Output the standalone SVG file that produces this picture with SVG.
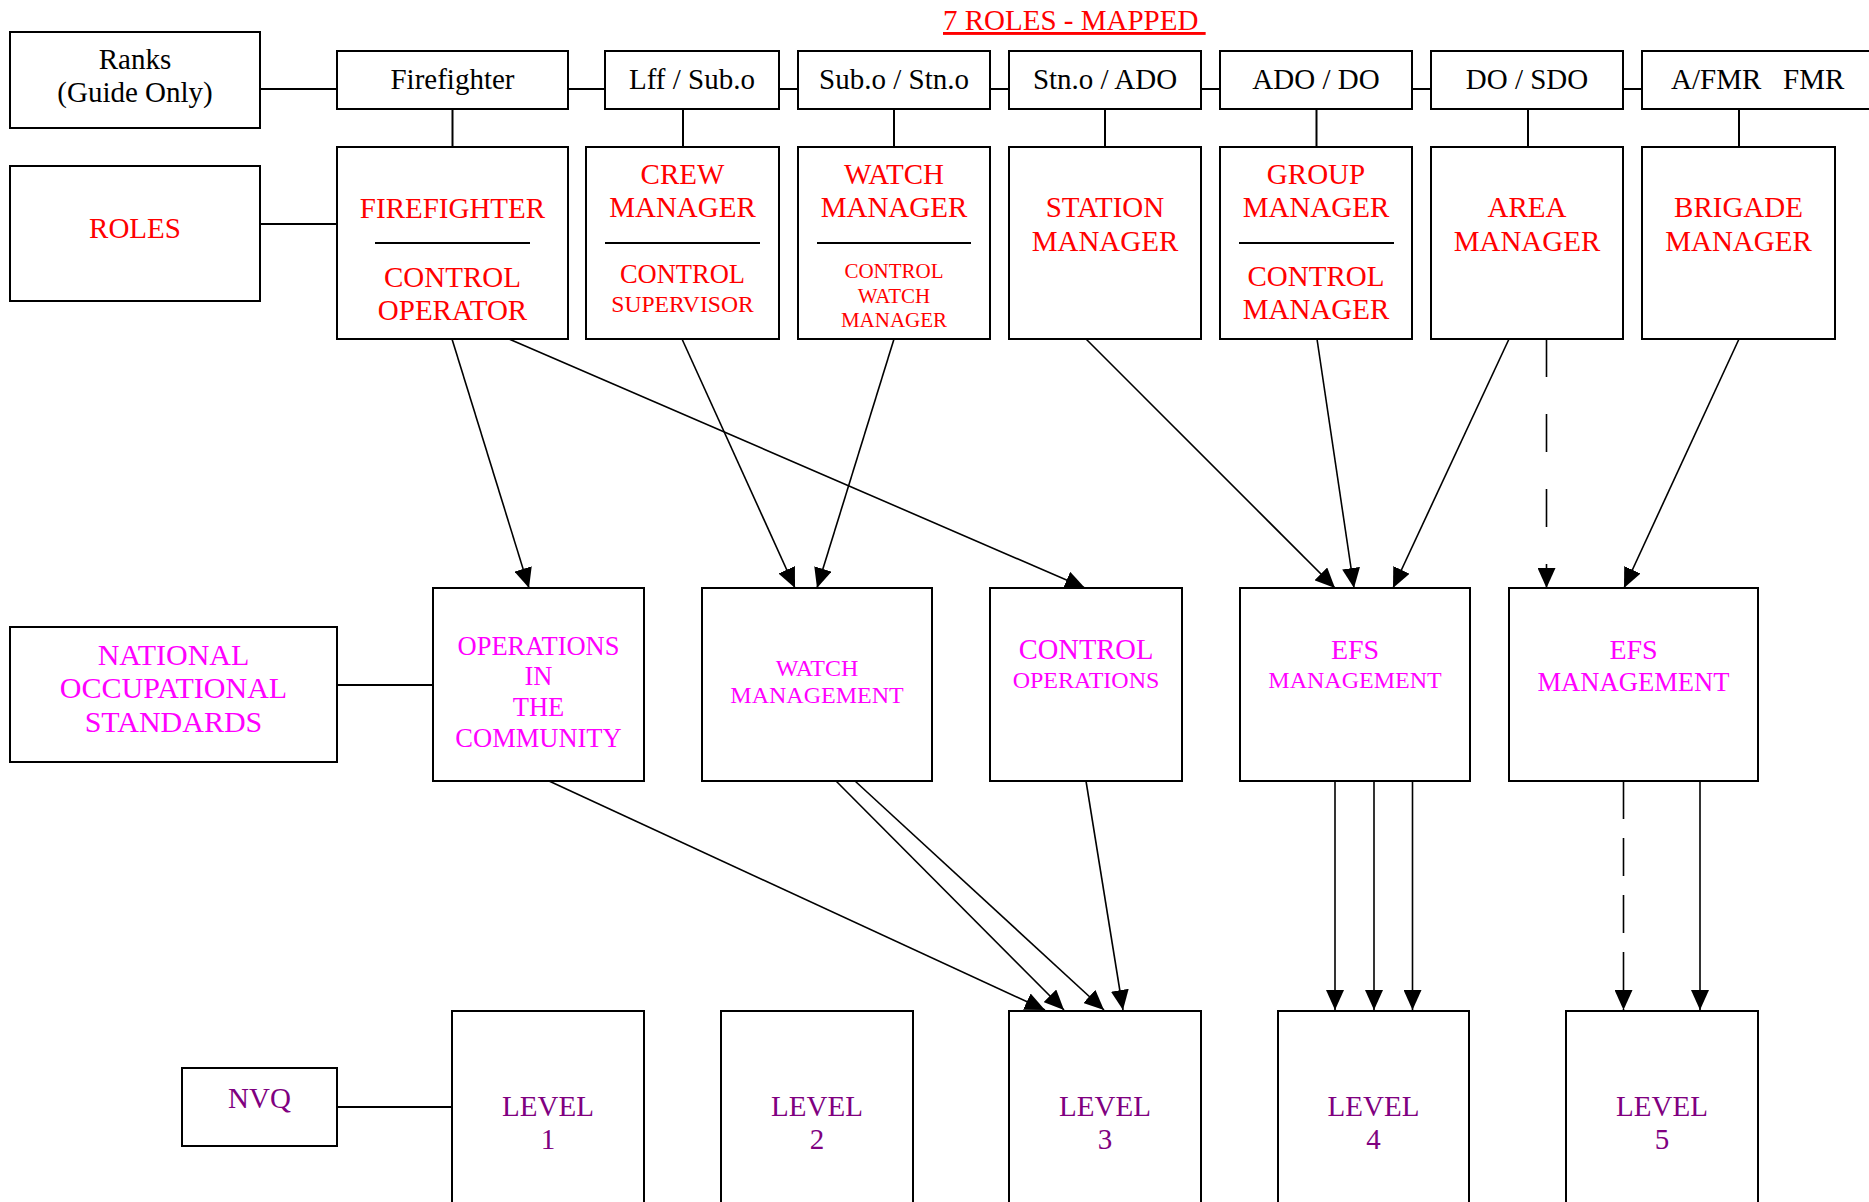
<svg xmlns="http://www.w3.org/2000/svg" width="1869" height="1202" viewBox="0 0 1869 1202">
  <style>
    text { font-family: "Liberation Serif", "Times New Roman", serif; text-anchor: middle; }
    .box { fill: #fff; stroke: #000; stroke-width: 2; }
    .rule { stroke: #000; stroke-width: 2; }
    .rank { font-size: 29px; fill: #000; }
    .role { font-size: 29px; fill: #ff0000; }
    .nos { fill: #ff00ff; }
    .lvl { font-size: 29px; fill: #800080; }
    .link { stroke: #000; stroke-width: 2; fill: none; }
    .arrow { stroke: #000; stroke-width: 1.6; fill: none; marker-end: url(#head); }
    .dash1 { stroke-dasharray: 38 37; }
    .dash2 { stroke-dasharray: 38 19; }
  </style>
  <defs>
    <marker id="head" markerUnits="userSpaceOnUse" markerWidth="20" markerHeight="18" refX="20" refY="9" orient="auto">
      <path d="M0,0 L20,9 L0,18 Z" fill="#000"/>
    </marker>
  </defs>

  <rect width="1869" height="1202" fill="#fff"/>

  <!-- heading -->
  <text id="title" x="943" y="30" xml:space="preserve" style="text-anchor:start;font-size:29px;fill:#ff0000;text-decoration:underline">7 ROLES - MAPPED </text>

  <!-- plain links between boxes -->
  <g id="connectors">
    <!-- rank row chain -->
    <line class="link" x1="260" y1="89" x2="337" y2="89"/>
    <line class="link" x1="568" y1="89" x2="605" y2="89"/>
    <line class="link" x1="779" y1="89" x2="798" y2="89"/>
    <line class="link" x1="990" y1="89" x2="1009" y2="89"/>
    <line class="link" x1="1201" y1="89" x2="1220" y2="89"/>
    <line class="link" x1="1412" y1="89" x2="1431" y2="89"/>
    <line class="link" x1="1623" y1="89" x2="1642" y2="89"/>
    <!-- rank to role -->
    <line class="link" x1="452.5" y1="109" x2="452.5" y2="147"/>
    <line class="link" x1="683" y1="109" x2="683" y2="147"/>
    <line class="link" x1="894" y1="109" x2="894" y2="147"/>
    <line class="link" x1="1105" y1="109" x2="1105" y2="147"/>
    <line class="link" x1="1316.5" y1="109" x2="1316.5" y2="147"/>
    <line class="link" x1="1528" y1="109" x2="1528" y2="147"/>
    <line class="link" x1="1739" y1="109" x2="1739" y2="147"/>
    <!-- row labels -->
    <line class="link" x1="260" y1="224" x2="337" y2="224"/>
    <line class="link" x1="337" y1="685" x2="433" y2="685"/>
    <line class="link" x1="337" y1="1107" x2="452" y2="1107"/>

    <!-- roles to standards -->
    <line class="arrow" x1="452" y1="339" x2="529" y2="588"/>
    <line class="arrow" x1="509" y1="339" x2="1085" y2="588"/>
    <line class="arrow" x1="682" y1="339" x2="795" y2="588"/>
    <line class="arrow" x1="894" y1="339" x2="817" y2="588"/>
    <line class="arrow" x1="1086" y1="339" x2="1335" y2="588"/>
    <line class="arrow" x1="1317" y1="339" x2="1354" y2="588"/>
    <line class="arrow" x1="1509" y1="339" x2="1393" y2="588"/>
    <line class="arrow dash1" x1="1546.5" y1="339" x2="1546.5" y2="588"/>
    <line class="arrow" x1="1739" y1="339" x2="1624" y2="588"/>

    <!-- standards to levels -->
    <line class="arrow" x1="549" y1="781" x2="1045" y2="1010"/>
    <line class="arrow" x1="836" y1="781" x2="1064" y2="1010"/>
    <line class="arrow" x1="855" y1="781" x2="1104" y2="1010"/>
    <line class="arrow" x1="1086" y1="781" x2="1123" y2="1010"/>
    <line class="arrow" x1="1335" y1="781" x2="1335" y2="1010"/>
    <line class="arrow" x1="1374" y1="781" x2="1374" y2="1010"/>
    <line class="arrow" x1="1412.5" y1="781" x2="1412.5" y2="1010"/>
    <line class="arrow dash2" x1="1623.5" y1="781" x2="1623.5" y2="1010"/>
    <line class="arrow" x1="1700" y1="781" x2="1700" y2="1010"/>
  </g>

  <!-- rank row -->
  <g id="ranks-label">
    <rect class="box" x="10" y="32" width="250" height="96"/>
    <text class="rank" x="135" y="69">Ranks</text>
    <text class="rank" x="135" y="102">(Guide Only)</text>
  </g>
  <g id="rank-firefighter">
    <rect class="box" x="337" y="51" width="231" height="58"/>
    <text class="rank" x="452.5" y="89">Firefighter</text>
  </g>
  <g id="rank-lff-subo">
    <rect class="box" x="605" y="51" width="174" height="58"/>
    <text class="rank" x="692" y="89">Lff / Sub.o</text>
  </g>
  <g id="rank-subo-stno">
    <rect class="box" x="798" y="51" width="192" height="58"/>
    <text class="rank" x="894" y="89">Sub.o / Stn.o</text>
  </g>
  <g id="rank-stno-ado">
    <rect class="box" x="1009" y="51" width="192" height="58"/>
    <text class="rank" x="1105" y="89">Stn.o / ADO</text>
  </g>
  <g id="rank-ado-do">
    <rect class="box" x="1220" y="51" width="192" height="58"/>
    <text class="rank" x="1316" y="89">ADO / DO</text>
  </g>
  <g id="rank-do-sdo">
    <rect class="box" x="1431" y="51" width="192" height="58"/>
    <text class="rank" x="1527" y="89">DO / SDO</text>
  </g>
  <g id="rank-afmr-fmr">
    <rect class="box" x="1642" y="51" width="240" height="58"/>
    <text class="rank" x="1671" y="89" xml:space="preserve" style="text-anchor:start">A/FMR   FMR</text>
  </g>

  <!-- role row -->
  <g id="roles-label">
    <rect class="box" x="10" y="166" width="250" height="135"/>
    <text class="role" x="135" y="238">ROLES</text>
  </g>
  <g id="role-firefighter">
    <rect class="box" x="337" y="147" width="231" height="192"/>
    <text class="role" x="452.5" y="218">FIREFIGHTER</text>
    <line class="rule" x1="375" y1="243" x2="530" y2="243"/>
    <text class="role" x="452.5" y="287">CONTROL</text>
    <text class="role" x="452.5" y="320">OPERATOR</text>
  </g>
  <g id="role-crew">
    <rect class="box" x="586" y="147" width="193" height="192"/>
    <text class="role" x="682.5" y="184">CREW</text>
    <text class="role" x="682.5" y="217">MANAGER</text>
    <line class="rule" x1="605" y1="243" x2="760" y2="243"/>
    <text class="role" x="682.5" y="283" style="font-size:26.5px">CONTROL</text>
    <text class="role" x="682.5" y="312" style="font-size:23.6px">SUPERVISOR</text>
  </g>
  <g id="role-watch">
    <rect class="box" x="798" y="147" width="192" height="192"/>
    <text class="role" x="894" y="184">WATCH</text>
    <text class="role" x="894" y="217">MANAGER</text>
    <line class="rule" x1="817" y1="243" x2="971" y2="243"/>
    <text class="role" x="894" y="278" style="font-size:21px">CONTROL</text>
    <text class="role" x="894" y="303" style="font-size:21px">WATCH</text>
    <text class="role" x="894" y="327" style="font-size:21px">MANAGER</text>
  </g>
  <g id="role-station">
    <rect class="box" x="1009" y="147" width="192" height="192"/>
    <text class="role" x="1105" y="217">STATION</text>
    <text class="role" x="1105" y="251">MANAGER</text>
  </g>
  <g id="role-group">
    <rect class="box" x="1220" y="147" width="192" height="192"/>
    <text class="role" x="1316" y="184">GROUP</text>
    <text class="role" x="1316" y="217">MANAGER</text>
    <line class="rule" x1="1239" y1="243" x2="1394" y2="243"/>
    <text class="role" x="1316" y="286">CONTROL</text>
    <text class="role" x="1316" y="319">MANAGER</text>
  </g>
  <g id="role-area">
    <rect class="box" x="1431" y="147" width="192" height="192"/>
    <text class="role" x="1527" y="217">AREA</text>
    <text class="role" x="1527" y="251">MANAGER</text>
  </g>
  <g id="role-brigade">
    <rect class="box" x="1642" y="147" width="193" height="192"/>
    <text class="role" x="1738.5" y="217">BRIGADE</text>
    <text class="role" x="1738.5" y="251">MANAGER</text>
  </g>

  <!-- occupational standards row -->
  <g id="nos-label">
    <rect class="box" x="10" y="627" width="327" height="135"/>
    <text class="nos" x="173.5" y="665" style="font-size:30px">NATIONAL</text>
    <text class="nos" x="173.5" y="698" style="font-size:30px">OCCUPATIONAL</text>
    <text class="nos" x="173.5" y="732" style="font-size:30px">STANDARDS</text>
  </g>
  <g id="nos-operations">
    <rect class="box" x="433" y="588" width="211" height="193"/>
    <text class="nos" x="538.5" y="655" style="font-size:26.5px">OPERATIONS</text>
    <text class="nos" x="538.5" y="685" style="font-size:26.5px">IN</text>
    <text class="nos" x="538.5" y="716" style="font-size:26.5px">THE</text>
    <text class="nos" x="538.5" y="747" style="font-size:26.5px">COMMUNITY</text>
  </g>
  <g id="nos-watch-management">
    <rect class="box" x="702" y="588" width="230" height="193"/>
    <text class="nos" x="817" y="676" style="font-size:24px">WATCH</text>
    <text class="nos" x="817" y="703" style="font-size:24px">MANAGEMENT</text>
  </g>
  <g id="nos-control-operations">
    <rect class="box" x="990" y="588" width="192" height="193"/>
    <text class="nos" x="1086" y="659" style="font-size:28.5px">CONTROL</text>
    <text class="nos" x="1086" y="688" style="font-size:24px">OPERATIONS</text>
  </g>
  <g id="nos-efs-management-a">
    <rect class="box" x="1240" y="588" width="230" height="193"/>
    <text class="nos" x="1355" y="659" style="font-size:28px">EFS</text>
    <text class="nos" x="1355" y="688" style="font-size:24px">MANAGEMENT</text>
  </g>
  <g id="nos-efs-management-b">
    <rect class="box" x="1509" y="588" width="249" height="193"/>
    <text class="nos" x="1633.5" y="659" style="font-size:28px">EFS</text>
    <text class="nos" x="1633.5" y="691" style="font-size:26.6px">MANAGEMENT</text>
  </g>

  <!-- NVQ level row -->
  <g id="nvq-label">
    <rect class="box" x="182" y="1068" width="155" height="78"/>
    <text class="lvl" x="259.5" y="1108">NVQ</text>
  </g>
  <g id="level-1">
    <rect class="box" x="452" y="1011" width="192" height="210"/>
    <text class="lvl" x="548" y="1116">LEVEL</text>
    <text class="lvl" x="548" y="1149">1</text>
  </g>
  <g id="level-2">
    <rect class="box" x="721" y="1011" width="192" height="210"/>
    <text class="lvl" x="817" y="1116">LEVEL</text>
    <text class="lvl" x="817" y="1149">2</text>
  </g>
  <g id="level-3">
    <rect class="box" x="1009" y="1011" width="192" height="210"/>
    <text class="lvl" x="1105" y="1116">LEVEL</text>
    <text class="lvl" x="1105" y="1149">3</text>
  </g>
  <g id="level-4">
    <rect class="box" x="1278" y="1011" width="191" height="210"/>
    <text class="lvl" x="1373.5" y="1116">LEVEL</text>
    <text class="lvl" x="1373.5" y="1149">4</text>
  </g>
  <g id="level-5">
    <rect class="box" x="1566" y="1011" width="192" height="210"/>
    <text class="lvl" x="1662" y="1116">LEVEL</text>
    <text class="lvl" x="1662" y="1149">5</text>
  </g>
</svg>
